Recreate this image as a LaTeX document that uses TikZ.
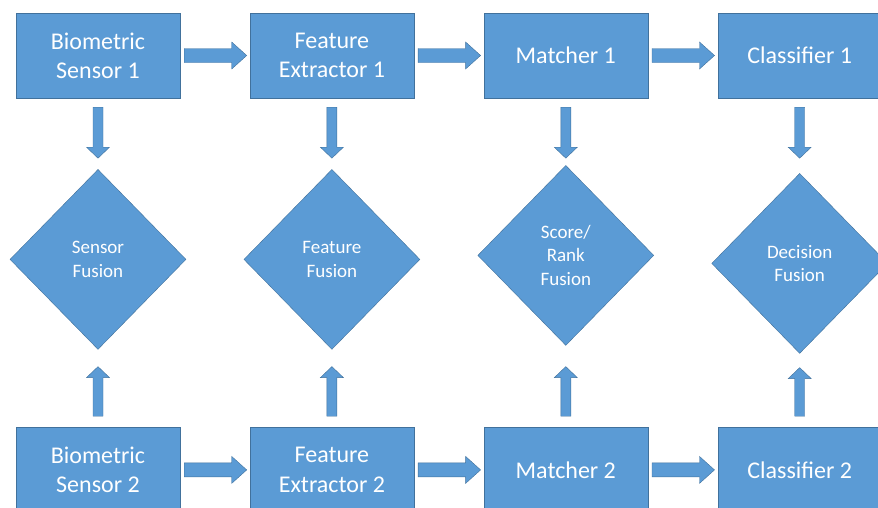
\documentclass[tikz,border=0pt]{standalone}
\usepackage{fontspec}
\setmainfont{Carlito}
\usetikzlibrary{positioning, shapes.geometric, calc}
\definecolor{fuseBlue}{HTML}{5B9BD5}
\definecolor{fuseLine}{HTML}{41719C}
\tikzset{
  boxBlue/.style={rectangle, draw=fuseLine, fill=fuseBlue, text=white, align=center,
                  font=\fontsize{24}{29.3}\selectfont, inner sep=0pt,
                  minimum width=164pt, minimum height=85pt},
  diaBlue/.style={diamond, aspect=1, draw=fuseLine, fill=fuseBlue, text=white, align=center,
                  font=\fontsize{19}{23.5}\selectfont, inner sep=0pt,
                  minimum width=176pt, minimum height=180pt},
  arrowH/.style={draw=fuseLine, fill=fuseBlue, to path={
      let \p1=(\tikztostart), \p2=(\tikztotarget) in
      (\x1+4pt,\y1+7pt) -- (\x2-18pt,\y1+7pt) -- (\x2-18pt,\y1+13.5pt) -- (\x2-3pt,\y1)
      -- (\x2-18pt,\y1-13.5pt) -- (\x2-18pt,\y1-7pt) -- (\x1+4pt,\y1-7pt) -- cycle}},
  arrowD/.style={draw=fuseLine, fill=fuseBlue, to path={
      let \p1=(\tikztostart), \p2=(\tikztotarget) in
      (\x1-5pt,\y1-9pt) -- (\x1-5pt,\y2+#1+11pt) -- (\x1-11.5pt,\y2+#1+11pt) -- (\x1,\y2+#1)
      -- (\x1+11.5pt,\y2+#1+11pt) -- (\x1+5pt,\y2+#1+11pt) -- (\x1+5pt,\y1-9pt) -- cycle}},
  arrowD/.default=11pt,
  arrowU/.style={draw=fuseLine, fill=fuseBlue, to path={
      let \p1=(\tikztostart), \p2=(\tikztotarget) in
      (\x1-5pt,\y1+11pt) -- (\x1-5pt,\y2-#1-11pt) -- (\x1-11.5pt,\y2-#1-11pt) -- (\x1,\y2-#1)
      -- (\x1+11.5pt,\y2-#1-11pt) -- (\x1+5pt,\y2-#1-11pt) -- (\x1+5pt,\y1+11pt) -- cycle}},
  arrowU/.default=17pt,
}
\begin{document}
\begin{tikzpicture}[node distance=69.5pt]
  \useasboundingbox (0,0) rectangle (878pt,-507pt);
  \clip (0,0) rectangle (878pt,-507pt);
  % first modality
  \node[boxBlue] (s1) at (98pt,-55.5pt) {Biometric\\Sensor 1};
  \node[boxBlue, right=of s1] (f1) {Feature\\Extractor 1};
  \node[boxBlue, right=of f1] (m1) {Matcher 1};
  \node[boxBlue, right=of m1] (c1) {Classifier 1};
  % second modality
  \node[boxBlue, below=329pt of s1] (s2) {Biometric\\Sensor 2};
  \node[boxBlue, right=of s2] (f2) {Feature\\Extractor 2};
  \node[boxBlue, right=of f2] (m2) {Matcher 2};
  \node[boxBlue, right=of m2] (c2) {Classifier 2};
  % fusion levels
  \node[diaBlue, below=71pt of s1] (dSensor) {Sensor\\Fusion};
  \node[diaBlue, below=71pt of f1] (dFeature) {Feature\\Fusion};
  \node[diaBlue, below=67pt of m1] (dScore) {Score/\\Rank\\Fusion};
  \node[diaBlue, below=75pt of c1] (dDecision) {Decision\\Fusion};
  \draw[arrowH] (s1.east) to (f1.west); \draw[arrowH] (f1.east) to (m1.west);
  \draw[arrowH] (m1.east) to (c1.west);
  \draw[arrowH] (s2.east) to (f2.west); \draw[arrowH] (f2.east) to (m2.west);
  \draw[arrowH] (m2.east) to (c2.west);
  \draw[arrowD] (s1.south) to (dSensor.north);
  \draw[arrowD] (f1.south) to (dFeature.north);
  \draw[arrowD=7pt] (m1.south) to (dScore.north);
  \draw[arrowD=15pt] (c1.south) to (dDecision.north);
  \draw[arrowU] (s2.north) to (dSensor.south);
  \draw[arrowU] (f2.north) to (dFeature.south);
  \draw[arrowU=21pt] (m2.north) to (dScore.south);
  \draw[arrowU=14pt] (c2.north) to (dDecision.south);
\end{tikzpicture}
\end{document}
